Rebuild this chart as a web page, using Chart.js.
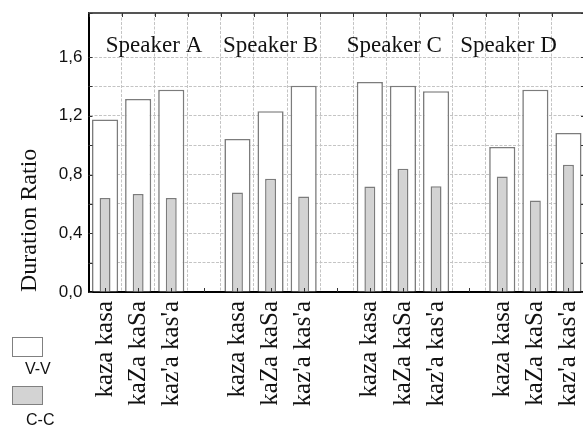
<!DOCTYPE html>
<html>
<head>
<meta charset="utf-8">
<script src="https://cdn.jsdelivr.net/npm/chart.js@4/dist/chart.umd.min.js"></script>
<style>
  html, body { margin: 0; padding: 0; background: #fff; overflow: hidden; width: 583px; height: 428px; }
  #wrap { position: absolute; left: 0; top: 0; width: 586px; height: 428px; }
  .lg-box { position: absolute; box-sizing: border-box; border: 1.5px solid #808080; }
  .lg-txt { position: absolute; font-family: "Liberation Sans", Arial, sans-serif; font-size: 16px; color: #111; }
</style>
</head>
<body>
<div id="wrap"><canvas id="c" width="586" height="428"></canvas></div>
<div class="lg-box" style="left:12px;top:337px;width:31px;height:20px;background:#fff;"></div>
<div class="lg-txt" style="left:25px;top:360px;">V-V</div>
<div class="lg-box" style="left:12px;top:386px;width:31px;height:19px;background:#d3d3d3;"></div>
<div class="lg-txt" style="left:26px;top:411px;">C-C</div>
<script>
const categories = [
  'kaza kasa', 'kaZa kaSa', "kaz'a kas'a", '',
  'kaza kasa', 'kaZa kaSa', "kaz'a kas'a", '',
  'kaza kasa', 'kaZa kaSa', "kaz'a kas'a", '',
  'kaza kasa', 'kaZa kaSa', "kaz'a kas'a"
];
const vvValues = [1.175, 1.315, 1.378, null, 1.042, 1.231, 1.405, null, 1.43, 1.405, 1.367, null, 0.988, 1.378, 1.083];
const ccValues = [0.64, 0.667, 0.64, null, 0.678, 0.771, 0.65, null, 0.719, 0.84, 0.72, null, 0.787, 0.623, 0.867];
const speakerNames = ['Speaker A', 'Speaker B', 'Speaker C', 'Speaker D'];
const speakerPos = [1.48, 5.0, 8.74, 12.19];
const yTickStep = 0.2;
const yMax = 1.9;

const framePlugin = {
  id: 'frame',
  afterDraw(chart) {
    const ctx = chart.ctx;
    const a = chart.chartArea;
    const x = chart.scales.x, y = chart.scales.y;
    ctx.save();
    ctx.strokeStyle = '#555';
    ctx.lineWidth = 2;
    ctx.beginPath();
    ctx.moveTo(a.left, a.top); ctx.lineTo(a.right, a.top);
    ctx.moveTo(a.right, a.top); ctx.lineTo(a.right, a.bottom);
    ctx.stroke();
    ctx.lineWidth = 1;
    ctx.strokeStyle = '#333';
    ctx.beginPath();
    y.ticks.forEach(t => {
      const py = Math.round(y.getPixelForValue(t.value)) + 0.5;
      ctx.moveTo(a.left, py); ctx.lineTo(a.left + 4, py);
      ctx.moveTo(a.right - 4, py); ctx.lineTo(a.right, py);
    });
    for (let i = 0; i < categories.length; i++) {
      const px = Math.round(x.getPixelForValue(i)) + 0.5;
      ctx.moveTo(px, a.bottom); ctx.lineTo(px, a.bottom - 4);
      const bx = Math.round(x.getPixelForValue(i - 0.5)) + 0.5;
      ctx.moveTo(bx, a.top); ctx.lineTo(bx, a.top + 4);
    }
    ctx.stroke();
    ctx.fillStyle = '#111';
    ctx.font = '23px "Liberation Serif", "Times New Roman", serif';
    ctx.textAlign = 'center';
    ctx.textBaseline = 'alphabetic';
    speakerNames.forEach((n, i) => {
      ctx.fillText(n, x.getPixelForValue(speakerPos[i]), y.getPixelForValue(1.635));
    });
    ctx.restore();
  }
};

new Chart(document.getElementById('c'), {
  type: 'bar',
  data: {
    labels: categories,
    datasets: [
      {
        label: 'V-V', data: vvValues, backgroundColor: '#ffffff', borderColor: '#7c7c7c',
        borderWidth: 1.6, grouped: false, barPercentage: 0.79, categoryPercentage: 1, order: 1
      },
      {
        label: 'C-C', data: ccValues, backgroundColor: '#d3d3d3', borderColor: '#7c7c7c',
        borderWidth: 1.5, grouped: false, barPercentage: 0.33, categoryPercentage: 1, order: 0
      }
    ]
  },
  options: {
    responsive: false,
    animation: false,
    devicePixelRatio: 1,
    layout: { padding: { top: 13, right: 1, left: 0, bottom: 0 } },
    plugins: { legend: { display: false }, tooltip: { enabled: false } },
    scales: {
      x: {
        offset: true,
        grid: { display: true, offset: true, color: '#c4c4c4', drawTicks: false, lineWidth: 1 },
        border: { display: true, color: '#000', width: 2, dash: [3, 1.5] },
        ticks: {
          autoSkip: false, minRotation: 90, maxRotation: 90, padding: 9, color: '#111',
          font: { family: '"Liberation Serif", "Times New Roman", serif', size: 25 }
        },
        afterFit(axis) { axis.height = 136; axis.paddingLeft = 0; axis.paddingRight = 0; }
      },
      y: {
        min: 0, max: yMax,
        grid: { color: '#c4c4c4', drawTicks: false, lineWidth: 1 },
        border: { display: true, color: '#000', width: 2, dash: [3, 1.5] },
        ticks: {
          stepSize: yTickStep, padding: 6, color: '#111',
          font: { family: '"Liberation Sans", Arial, sans-serif', size: 17 },
          callback: (v) => {
            const k = Math.round(v / yTickStep);
            if (Math.abs(v - k * yTickStep) > 1e-6 || k % 2 !== 0) return '';
            return v.toFixed(1).replace('.', ',');
          }
        },
        title: {
          display: true, text: 'Duration Ratio', align: 'start', color: '#111',
          font: { family: '"Liberation Serif", "Times New Roman", serif', size: 24 },
          padding: { top: 15, bottom: 0 }
        },
        afterFit(axis) { axis.width = 88.5; axis.paddingTop = 0; axis.paddingBottom = 0; }
      }
    }
  },
  plugins: [framePlugin]
});
</script>
</body>
</html>
